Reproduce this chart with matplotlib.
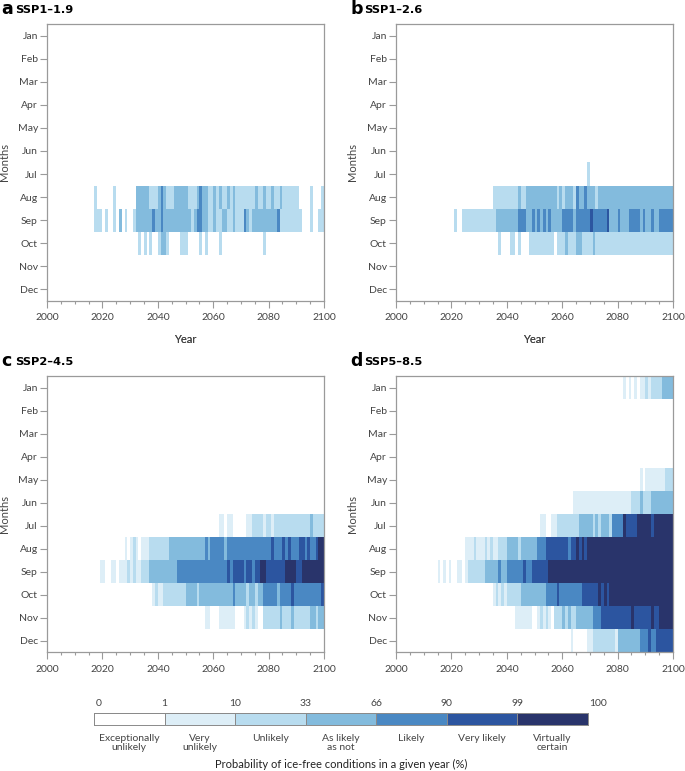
"""
Probability of ice-free Arctic conditions by month and year, four SSP scenarios.
"""
import numpy as np
import matplotlib
matplotlib.use('Agg')
import matplotlib.pyplot as plt
from matplotlib.colors import ListedColormap, BoundaryNorm
from matplotlib.ticker import MultipleLocator

plt.rcParams['font.family'] = ['Lato', 'DejaVu Sans']

months = ['Jan', 'Feb', 'Mar', 'Apr', 'May', 'Jun',
          'Jul', 'Aug', 'Sep', 'Oct', 'Nov', 'Dec']
year_start, year_end = 2000, 2100

# likelihood classes (IPCC calibrated language)
class_edges = ['0', '1', '10', '33', '66', '90', '99', '100']
class_names = ['Exceptionally\nunlikely', 'Very\nunlikely', 'Unlikely',
               'As likely\nas not', 'Likely', 'Very likely', 'Virtually\ncertain']
class_colors = ['#ffffff', '#ddeef7', '#b8dcef', '#83bbdd',
                '#4a88c3', '#2c55a0', '#29346b']

# class index per year 2000..2099 (10 years per group); months not listed are class 0
ssp119 = {
    'Aug': '0000000000 0000000200 0000200000 0033333222 3432223333 3222343322 3232232322 2222232232 2322322222 2000020002',
    'Sep': '0000000000 0000000222 0200203020 0233333343 3433333333 3323443322 3223322322 2432333333 3334222222 2200020022',
    'Oct': '0000000000 0000000000 0000000000 0002020200 2332000022 2000020200 0020000000 0000000020 0000000000 0000000000',
}
ssp126 = {
    'Jul': '0000000000 0000000000 0000000000 0000000000 0000000000 0000000000 0000000002 0000000000 0000000000 0000000000',
    'Aug': '0000000000 0000000000 0000000000 0000022222 2222322333 3333333323 2333243343 3323333333 3333333333 3333333333',
    'Sep': '0000000000 0000000000 0200222222 2222223333 3333444334 3434343333 4444344444 5444445333 4333444434 3343344444',
    'Oct': '0000000000 0000000000 0000000000 0000000200 0220200022 2222222022 2322233222 2322222222 2222222222 2222222222',
}
ssp245 = {
    'Jul': '0000000000 0000000000 0000000000 0000000000 0000000000 0000000000 0011011000 0011222212 2122222222 2222232222',
    'Aug': '0000000000 0000000000 0000000010 1210111222 2222333333 3333333434 4444344444 4444444444 4544454544 4554544566',
    'Sep': '0000000000 0000000001 1001101112 1211222333 3333333444 4444444444 4444454555 5455455665 5555556666 5566666666',
    'Oct': '0000000000 0000000000 0000000000 0000000012 1122222222 3333233333 3333333433 3323323344 4443444454 4444444445',
    'Nov': '0000000000 0000000000 0000000000 0000000000 0000000000 0000000110 0011111100 0121210022 2222322232 2222233233',
}
ssp585 = {
    'Jan': '0000000000 0000000000 0000000000 0000000000 0000000000 0000000000 0000000000 0000000000 0010101011 2122223333',
    'May': '0000000000 0000000000 0000000000 0000000000 0000000000 0000000000 0000000000 0000000000 0000000010 1111111222',
    'Jun': '0000000000 0000000000 0000000000 0000000000 0000000000 0000000000 0000111111 1111111111 1111122232 2233333333',
    'Jul': '0000000000 0000000000 0000000000 0000000000 0000000000 0011001122 2222223333 3232333244 4465555666 6656666666',
    'Aug': '0000000000 0000000000 0000011121 1121211222 3333233333 3444555555 5545565656 6666666666 6666666666 6666666666',
    'Sep': '0000000000 0000010101 0011012222 2233333433 4444445445 5555566666 6666666666 6666666666 6666666666 6666666666',
    'Oct': '0000000000 0000000000 0000000000 0000012121 2222233333 3333444454 4444444555 5556565666 6666666666 6666666666',
    'Nov': '0000000000 0000000000 0000000000 0000000000 0001111110 0121210222 3232233333 3444555555 5555565555 5565566666',
    'Dec': '0000000000 0000000000 0000000000 0000000000 0000000000 0000000000 0001000001 1222222221 3333333344 4544555555',
}

panels = [('a', 'SSP1\u20131.9', ssp119), ('b', 'SSP1\u20132.6', ssp126),
          ('c', 'SSP2\u20134.5', ssp245), ('d', 'SSP5\u20138.5', ssp585)]


def to_grid(rows):
    grid = np.zeros((12, year_end - year_start), dtype=int)
    for m, s in rows.items():
        grid[months.index(m)] = [int(c) for c in s.replace(' ', '')]
    return grid


W, H = 685, 771
fig = plt.figure(figsize=(W / 100, H / 100), dpi=100)

cmap = ListedColormap(class_colors)
norm = BoundaryNorm(np.arange(-0.5, 7.5, 1), cmap.N)

# axes boxes in pixels: left, top, right, bottom
boxes = [(47, 24, 324, 301), (396, 24, 673, 301),
         (47, 376, 324, 652), (396, 376, 673, 652)]
title_pos = [(1, 9), (350, 9), (1, 361), (350, 361)]

spine_col = '#9a9a9a'
text_col = '#444444'

for (letter, name, rows), (l, t, r, b), (tx, ty) in zip(panels, boxes, title_pos):
    ax = fig.add_axes([l / W, 1 - b / H, (r - l) / W, (b - t) / H])
    grid = to_grid(rows)
    x_edges = np.arange(year_start, year_end + 1)
    y_edges = np.arange(13)
    ax.pcolormesh(x_edges, y_edges, grid, cmap=cmap, norm=norm,
                  shading='flat', edgecolors='none', linewidth=0)
    ax.set_xlim(year_start, year_end)
    ax.set_ylim(12, 0)
    ax.set_yticks(np.arange(12) + 0.5)
    ax.set_yticklabels(months)
    ax.xaxis.set_major_locator(MultipleLocator(20))
    ax.xaxis.set_minor_locator(MultipleLocator(5))
    ax.tick_params(axis='both', which='major', color=spine_col, labelcolor=text_col,
                   labelsize=7.5, width=0.8)
    ax.tick_params(axis='y', length=5, pad=1.5)
    ax.tick_params(axis='x', which='major', length=5, pad=4)
    ax.tick_params(axis='x', which='minor', length=2.5, color=spine_col, width=0.8)
    for sp in ax.spines.values():
        sp.set_color(spine_col)
        sp.set_linewidth(0.9)
    ax.set_xlabel('Year', fontsize=8, color=text_col)
    ax.xaxis.set_label_coords(0.5, -(334 - b) / (b - t))
    ax.set_ylabel('Months', fontsize=8, color=text_col)
    ylab_x = 10 if l < 100 else 358
    ax.yaxis.set_label_coords(-(l - ylab_x) / (r - l), 0.5)

    fig.text(tx / W, 1 - ty / H, letter, fontsize=12.5, fontweight='bold',
             family='DejaVu Sans', va='center', ha='left', color='black')
    fig.text((tx + 14) / W, 1 - (ty + 1) / H, name, fontsize=8.2, fontweight='bold',
             family='DejaVu Sans', va='center', ha='left', color='black')

# legend bar
cl, ct, cr, cb = 94, 713, 588, 725
cax = fig.add_axes([cl / W, 1 - cb / H, (cr - cl) / W, (cb - ct) / H])
cax.pcolormesh(np.arange(8), [0, 1], np.arange(7)[None, :], cmap=cmap, norm=norm,
               edgecolors='#8a8a8a', linewidth=0.7)
cax.set_xlim(0, 7)
cax.set_ylim(0, 1)
cax.set_xticks([])
cax.set_yticks([])
for sp in cax.spines.values():
    sp.set_color('#8a8a8a')
    sp.set_linewidth(0.7)

for i, lab in enumerate(class_edges):
    xo = {0: 0.06, 7: 7.14}.get(i, i)
    cax.text(xo, 1.75, lab, ha='center', va='center', fontsize=7.5, color=text_col)
for i, name in enumerate(class_names):
    cax.text(i + 0.5, -0.75, name, ha='center', va='top', fontsize=7.5,
             color=text_col, linespacing=1.05)

fig.text(341 / W, 1 - 764 / H, 'Probability of ice-free conditions in a given year (%)',
         ha='center', va='center', fontsize=8, color='#222222')

fig.savefig('out.png', dpi=100)
